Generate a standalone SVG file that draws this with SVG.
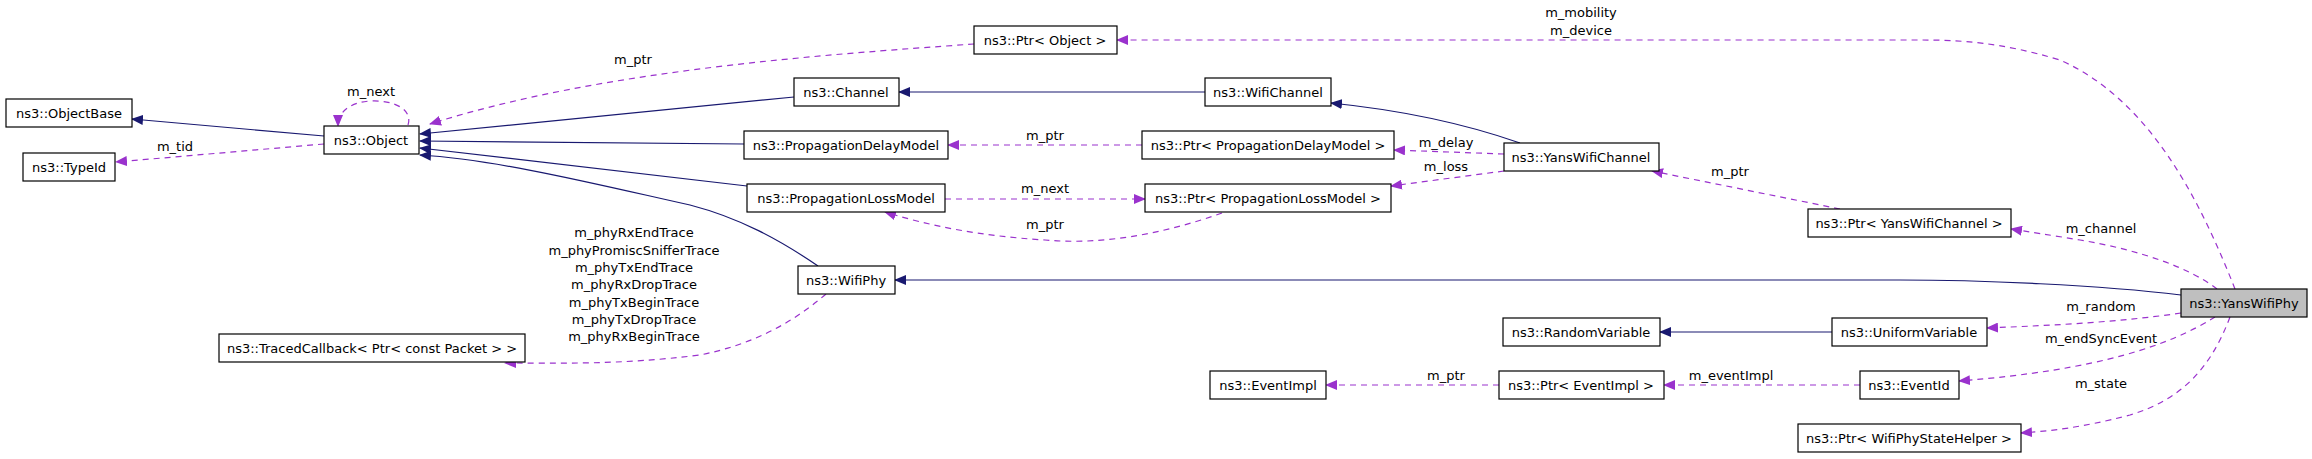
<svg xmlns="http://www.w3.org/2000/svg" width="2312" height="459" viewBox="0 0 2312 459">
<style>
.n rect{fill:#fff;stroke:#000;stroke-width:1.2}
.g rect{fill:#bfbfbf}
text{font-family:"DejaVu Sans",sans-serif;font-size:13px;fill:#000}
.n text{text-anchor:middle}
.l{text-anchor:middle}
.i{fill:none;stroke:#191970;stroke-width:1.2}
.u{fill:none;stroke:#9a32cd;stroke-width:1.2;stroke-dasharray:6,5}
</style>
<defs>
<marker id="ai" markerWidth="12" markerHeight="10" refX="11" refY="5" orient="auto" markerUnits="userSpaceOnUse"><path d="M0,0L12,5L0,10z" fill="#191970"/></marker>
<marker id="au" markerWidth="12" markerHeight="10" refX="11" refY="5" orient="auto" markerUnits="userSpaceOnUse"><path d="M0,0L12,5L0,10z" fill="#9a32cd"/></marker>
</defs>
<rect width="2312" height="459" fill="#fff"/>
<g id="edges">
<path class="i" marker-end="url(#ai)" d="M324,136L132,119"/>
<path class="u" marker-end="url(#au)" d="M324,144L116,162"/>
<path class="u" marker-end="url(#au)" d="M408,125C413,110 395,100 371,101C350,102 338,112 338,126"/>
<path class="u" marker-end="url(#au)" d="M974,44C820,55 600,70 430,124"/>
<path class="i" marker-end="url(#ai)" d="M794,97L420,134"/>
<path class="i" marker-end="url(#ai)" d="M744,144L420,141"/>
<path class="i" marker-end="url(#ai)" d="M747,186L420,148"/>
<path class="i" marker-end="url(#ai)" d="M818,266C780,240 740,218 690,205C600,185 500,160 420,155"/>
<path class="i" marker-end="url(#ai)" d="M1205,92L899,92"/>
<path class="i" marker-end="url(#ai)" d="M1520,143C1460,122 1400,110 1331,103"/>
<path class="u" marker-end="url(#au)" d="M1142,145L948,145"/>
<path class="u" marker-end="url(#au)" d="M1504,154L1394,150"/>
<path class="u" marker-end="url(#au)" d="M1504,171L1391,186"/>
<path class="u" marker-end="url(#au)" d="M945,199L1145,199"/>
<path class="u" marker-end="url(#au)" d="M1222,213C1160,235 1100,245 1045,240C980,236 930,226 885,212"/>
<path class="u" marker-end="url(#au)" d="M1840,209L1652,171"/>
<path class="u" marker-end="url(#au)" d="M2217,289C2190,268 2140,250 2080,240C2050,235 2030,232 2011,229"/>
<path class="i" marker-end="url(#ai)" d="M2181,295C2100,285 1980,280 1900,280L895,280"/>
<path class="u" marker-end="url(#au)" d="M2235,289C2200,200 2150,100 2060,60C2000,42 1960,40 1920,40L1117,40"/>
<path class="u" marker-end="url(#au)" d="M2181,313C2120,322 2060,325 1987,328"/>
<path class="i" marker-end="url(#ai)" d="M1832,332L1660,332"/>
<path class="u" marker-end="url(#au)" d="M2215,317C2170,345 2100,370 1959,381"/>
<path class="u" marker-end="url(#au)" d="M1860,385L1664,385"/>
<path class="u" marker-end="url(#au)" d="M1499,385L1326,385"/>
<path class="u" marker-end="url(#au)" d="M2230,317C2210,370 2180,400 2130,415C2080,428 2050,431 2021,433"/>
<path class="u" marker-end="url(#au)" d="M826,294C790,325 750,345 700,355C620,365 560,363 505,363"/>
<text class="l" x="371" y="96">m_next</text>
<text class="l" x="175" y="151">m_tid</text>
<text class="l" x="633" y="64">m_ptr</text>
<text class="l" x="634" y="237">m_phyRxEndTrace</text>
<text class="l" x="634" y="255">m_phyPromiscSnifferTrace</text>
<text class="l" x="634" y="272">m_phyTxEndTrace</text>
<text class="l" x="634" y="289">m_phyRxDropTrace</text>
<text class="l" x="634" y="307">m_phyTxBeginTrace</text>
<text class="l" x="634" y="324">m_phyTxDropTrace</text>
<text class="l" x="634" y="341">m_phyRxBeginTrace</text>
<text class="l" x="1045" y="140">m_ptr</text>
<text class="l" x="1446" y="147">m_delay</text>
<text class="l" x="1446" y="171">m_loss</text>
<text class="l" x="1045" y="193">m_next</text>
<text class="l" x="1045" y="229">m_ptr</text>
<text class="l" x="1446" y="380">m_ptr</text>
<text class="l" x="1581" y="17">m_mobility</text>
<text class="l" x="1581" y="35">m_device</text>
<text class="l" x="1730" y="176">m_ptr</text>
<text class="l" x="2101" y="233">m_channel</text>
<text class="l" x="2101" y="311">m_random</text>
<text class="l" x="2101" y="343">m_endSyncEvent</text>
<text class="l" x="1731" y="380">m_eventImpl</text>
<text class="l" x="2101" y="388">m_state</text>
</g>
<g id="ObjectBase" class="n"><rect x="6" y="99" width="126" height="28"/><text x="69" y="118">ns3::ObjectBase</text></g>
<g id="TypeId" class="n"><rect x="23" y="153" width="92" height="28"/><text x="69" y="172">ns3::TypeId</text></g>
<g id="Object" class="n"><rect x="324" y="126" width="95" height="28"/><text x="371" y="145">ns3::Object</text></g>
<g id="TracedCallback" class="n"><rect x="219" y="334" width="306" height="28"/><text x="372" y="353">ns3::TracedCallback&lt; Ptr&lt; const Packet &gt; &gt;</text></g>
<g id="PtrObject" class="n"><rect x="974" y="26" width="143" height="28"/><text x="1045" y="45">ns3::Ptr&lt; Object &gt;</text></g>
<g id="Channel" class="n"><rect x="794" y="78" width="105" height="28"/><text x="846" y="97">ns3::Channel</text></g>
<g id="WifiChannel" class="n"><rect x="1205" y="78" width="126" height="28"/><text x="1268" y="97">ns3::WifiChannel</text></g>
<g id="PropagationDelayModel" class="n"><rect x="744" y="131" width="204" height="28"/><text x="846" y="150">ns3::PropagationDelayModel</text></g>
<g id="PtrPDM" class="n"><rect x="1142" y="131" width="252" height="28"/><text x="1268" y="150">ns3::Ptr&lt; PropagationDelayModel &gt;</text></g>
<g id="PropagationLossModel" class="n"><rect x="747" y="184" width="198" height="28"/><text x="846" y="203">ns3::PropagationLossModel</text></g>
<g id="PtrPLM" class="n"><rect x="1145" y="184" width="246" height="28"/><text x="1268" y="203">ns3::Ptr&lt; PropagationLossModel &gt;</text></g>
<g id="WifiPhy" class="n"><rect x="798" y="266" width="97" height="28"/><text x="846" y="285">ns3::WifiPhy</text></g>
<g id="EventImpl" class="n"><rect x="1210" y="371" width="116" height="28"/><text x="1268" y="390">ns3::EventImpl</text></g>
<g id="YansWifiChannel" class="n"><rect x="1504" y="143" width="155" height="28"/><text x="1581" y="162">ns3::YansWifiChannel</text></g>
<g id="PtrYansWifiChannel" class="n"><rect x="1808" y="209" width="203" height="28"/><text x="1909" y="228">ns3::Ptr&lt; YansWifiChannel &gt;</text></g>
<g id="YansWifiPhy" class="n g"><rect x="2181" y="289" width="126" height="28"/><text x="2244" y="308">ns3::YansWifiPhy</text></g>
<g id="RandomVariable" class="n"><rect x="1503" y="318" width="157" height="28"/><text x="1581" y="337">ns3::RandomVariable</text></g>
<g id="UniformVariable" class="n"><rect x="1832" y="318" width="155" height="28"/><text x="1909" y="337">ns3::UniformVariable</text></g>
<g id="PtrEventImpl" class="n"><rect x="1499" y="371" width="165" height="28"/><text x="1581" y="390">ns3::Ptr&lt; EventImpl &gt;</text></g>
<g id="EventId" class="n"><rect x="1860" y="371" width="99" height="28"/><text x="1909" y="390">ns3::EventId</text></g>
<g id="PtrWifiPhyStateHelper" class="n"><rect x="1798" y="424" width="223" height="28"/><text x="1909" y="443">ns3::Ptr&lt; WifiPhyStateHelper &gt;</text></g>
</svg>
